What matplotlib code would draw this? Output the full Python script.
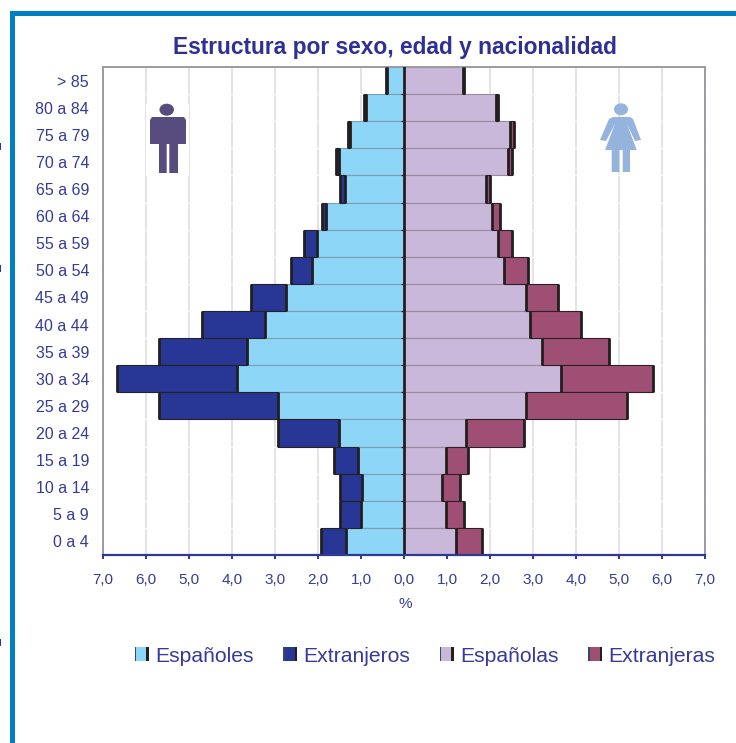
import matplotlib
matplotlib.use("Agg")
import matplotlib.pyplot as plt
import numpy as np
from matplotlib.patches import Rectangle, Polygon, Ellipse, Patch
from matplotlib.legend_handler import HandlerBase
from matplotlib.transforms import Affine2D

categories = ["> 85", "80 a 84", "75 a 79", "70 a 74", "65 a 69", "60 a 64", "55 a 59", "50 a 54", "45 a 49",
              "40 a 44", "35 a 39", "30 a 34", "25 a 29", "20 a 24", "15 a 19", "10 a 14", "5 a 9", "0 a 4"]
espanoles = [0.40, 0.88, 1.26, 1.52, 1.38, 1.81, 2.03, 2.13, 2.74, 3.23, 3.65, 3.89, 2.92, 1.52, 1.06, 0.97, 1.01, 1.34]
extranjeros = [0.02, 0.04, 0.05, 0.06, 0.11, 0.10, 0.30, 0.50, 0.82, 1.46, 2.05, 2.78, 2.78, 1.40, 0.56, 0.51, 0.47, 0.60]
espanolas = [1.38, 2.14, 2.47, 2.43, 1.91, 2.05, 2.19, 2.33, 2.84, 2.94, 3.22, 3.64, 2.84, 1.45, 0.98, 0.89, 0.98, 1.22]
extranjeras = [0.02, 0.04, 0.09, 0.08, 0.09, 0.18, 0.32, 0.55, 0.75, 1.18, 1.55, 2.15, 2.35, 1.34, 0.51, 0.41, 0.42, 0.59]
xticks = [-7, -6, -5, -4, -3, -2, -1, 0, 1, 2, 3, 4, 5, 6, 7]

W, H = 736, 743
NAVY = "#353b96"
BLACK = "#231f20"
C_ES_M, C_EX_M, C_ES_F, C_EX_F = "#8dd6f8", "#283795", "#c9b8da", "#a04f74"
plt.rcParams["font.family"] = ["Liberation Sans", "DejaVu Sans"]

fig = plt.figure(figsize=(W / 100, H / 100), dpi=100, facecolor="white")
px = Affine2D().scale(1, -1).translate(0, H)  # image pixel coordinates (y down)

# page frame
fig.add_artist(Rectangle((10, 11), W - 10, 5, transform=px, fc="#0080c2", ec="none"))
fig.add_artist(Rectangle((10, 11), 5, H - 11, transform=px, fc="#0080c2", ec="none"))
for y in (146, 268, 642):
    fig.add_artist(Rectangle((0, y - 3), 1, 7, transform=px, fc="#283795", ec="none"))

ax = fig.add_axes([103 / W, 1 - 555 / H, (705 - 103) / W, (555 - 67) / H])
ax.set_xlim(-7, 7)
ax.set_ylim(len(categories) - 0.5, -0.5)
y = np.arange(len(categories))
m_s, m_e = np.array(espanoles), np.array(extranjeros)
f_s, f_e = np.array(espanolas), np.array(extranjeras)

# grid, interrupted at category boundaries
ax.set_axisbelow(True)
ax.xaxis.grid(True, color="#e1e1e1", lw=1.3)
ax.hlines(y[:-1] + 0.5, -7, 7, color="white", lw=0.9, zorder=1)

kw = dict(height=1.0, zorder=2, linewidth=0.8)
ax.barh(y, -m_s, color=C_ES_M, edgecolor="#7c9db2", **kw)
ax.barh(y, -m_e, left=-m_s, color=C_EX_M, edgecolor="#232323", **kw)
ax.barh(y, f_s, color=C_ES_F, edgecolor="#98899f", **kw)
ax.barh(y, f_e, left=f_s, color=C_EX_F, edgecolor="#2a2226", **kw)
for xs in (-m_s, -(m_s + m_e), f_s, f_s + f_e):
    ax.vlines(xs, y - 0.5, y + 0.5, color=BLACK, lw=2.0, zorder=3)
ax.axvline(0, color=BLACK, lw=2.0, zorder=4)
ax.hlines(y[:-1] + 0.5, -0.08, 0, color=BLACK, lw=0.9, zorder=4)

for s in ("left", "top", "right"):
    ax.spines[s].set_color("#9b9ba1")
    ax.spines[s].set_linewidth(1.4)
ax.spines["bottom"].set_color("#2e3a94")
ax.spines["bottom"].set_linewidth(1.6)
ax.spines["bottom"].set_zorder(6)

ax.set_xticks(xticks)
ax.set_xticklabels([f"{abs(v):.1f}".replace(".", ",") for v in xticks], fontsize=11, color=NAVY)
ax.tick_params(axis="x", length=3, width=1.4, color="#2e3a94", pad=10)
ax.set_yticks(y)
ax.set_yticklabels(categories, fontsize=11.5, color=NAVY)
ax.tick_params(axis="y", length=0, pad=10)

fig.text(395 / W, 1 - 47.5 / H, "Estructura por sexo, edad y nacionalidad", ha="center", va="center",
         fontsize=16.4, fontweight="bold", color="#2e3192")
fig.text(405.5 / W, 1 - 604 / H, "%", ha="center", va="center", fontsize=11, color=NAVY)

# pictograms
def draw(artist):
    artist.set_transform(px)
    artist.set_zorder(5)
    fig.add_artist(artist)

MAN = "#564d7e"
draw(Rectangle((146, 104), 43, 72, fc="white", ec="none"))
draw(Ellipse((166.7, 109.7), 14.5, 12, fc=MAN, ec="none"))
draw(Polygon([(152, 117), (184, 117), (186, 120), (186, 144), (178, 144), (178, 173),
              (169.3, 173), (169.3, 144), (166.7, 144), (166.7, 173), (159, 173), (159, 144),
              (150, 144), (150, 120)], fc=MAN, ec="none"))
WOM = "#94b4de"
draw(Ellipse((621, 109.3), 14, 12, fc=WOM, ec="none"))
draw(Polygon([(613, 117), (630, 117), (633, 119), (641, 140), (635, 141), (627, 124), (636.7, 150), (630, 150),
              (630, 172), (622.7, 172), (622.7, 150), (619.3, 150), (619.3, 172), (611.7, 172), (611.7, 150),
              (605, 150), (615, 124), (606, 141), (600, 140), (609, 119)], fc=WOM, ec="none"))

# legend swatches carry dark stripes at both sides
class Swatch(HandlerBase):
    def create_artists(self, legend, orig, xd, yd, w, h, fs, trans):
        r = Rectangle((-xd, -yd), w, h, fc=orig.get_facecolor(), ec="none", transform=trans)
        a = Rectangle((-xd, -yd), w * 0.1, h, fc="#3b4a55", ec="none", transform=trans)
        b = Rectangle((-xd + w * 0.82, -yd), w * 0.18, h, fc=BLACK, ec="none", transform=trans)
        return [r, a, b]

handles = [Patch(facecolor=c, label=l) for c, l in zip((C_ES_M, C_EX_M, C_ES_F, C_EX_F),
                                                        ("Españoles", "Extranjeros", "Españolas", "Extranjeras"))]
fig.legend(handles=handles, handler_map={Patch: Swatch()}, ncol=4, frameon=False, loc="center left",
           bbox_to_anchor=(135 / W, 1 - 656 / H), borderaxespad=0, borderpad=0, fontsize=15.2,
           labelcolor=NAVY, handlelength=0.66, handleheight=0.66, handletextpad=0.3, columnspacing=1.4)

fig.savefig("out.png", dpi=100, facecolor="white")
